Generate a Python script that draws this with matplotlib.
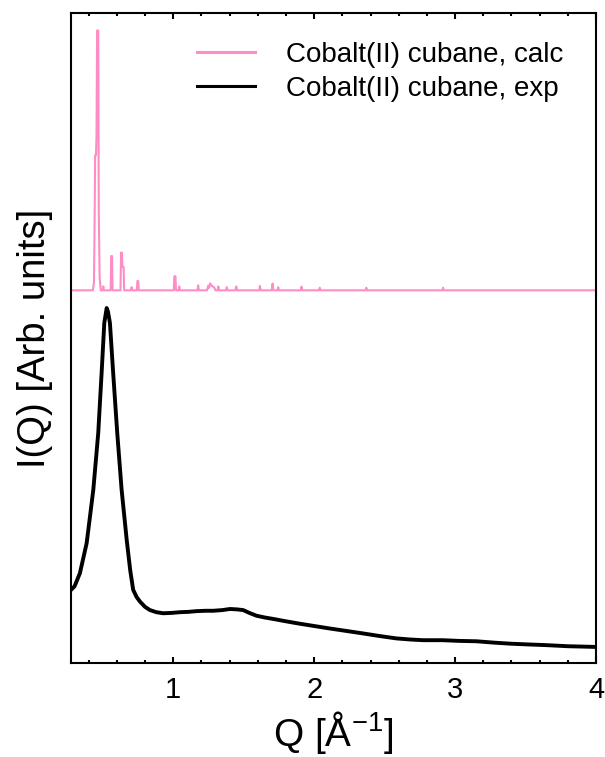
# Powder diffraction pattern: calculated vs experimental I(Q) for cobalt(II) cubane
import matplotlib.pyplot as plt
from matplotlib.ticker import MultipleLocator
import numpy as np

plt.rcParams['font.family'] = ['Liberation Sans', 'DejaVu Sans']
plt.rcParams['mathtext.default'] = 'regular'

# experimental trace (Q in 1/A, intensity normalised to the main peak)
exp_q = [0.275, 0.300, 0.338, 0.386, 0.433, 0.468, 0.492, 0.511, 0.528, 0.537,
         0.551, 0.574, 0.603, 0.634, 0.670, 0.695, 0.716, 0.740, 0.764, 0.800,
         0.835, 0.880, 0.929, 0.990, 1.048, 1.110, 1.166, 1.230, 1.284, 1.350,
         1.402, 1.450, 1.496, 1.540, 1.591, 1.650, 1.709, 1.790, 1.875, 2.000,
         2.111, 2.230, 2.348, 2.460, 2.584, 2.680, 2.773, 2.910, 3.030, 3.150,
         3.280, 3.400, 3.520, 3.650, 3.800, 4.000]
exp_i = [0.205, 0.215, 0.252, 0.337, 0.487, 0.647, 0.817, 0.958, 1.000, 0.990,
         0.958, 0.817, 0.647, 0.487, 0.346, 0.260, 0.205, 0.185, 0.172, 0.157,
         0.148, 0.142, 0.139, 0.140, 0.142, 0.143, 0.145, 0.146, 0.146, 0.148,
         0.151, 0.150, 0.148, 0.140, 0.132, 0.127, 0.123, 0.117, 0.111, 0.103,
         0.096, 0.089, 0.082, 0.075, 0.068, 0.065, 0.063, 0.063, 0.061, 0.060,
         0.056, 0.053, 0.051, 0.049, 0.046, 0.044]

# calculated pattern (narrow Bragg peaks on a flat baseline)
calc_q = [0.275, 0.430, 0.438, 0.443, 0.446, 0.452, 0.456, 0.460, 0.468, 0.472,
          0.478, 0.486, 0.500, 0.504, 0.508, 0.556, 0.560, 0.566, 0.570, 0.626,
          0.630, 0.636, 0.640, 0.648, 0.652, 0.700, 0.705, 0.710, 0.742, 0.746,
          0.752, 0.756, 1.004, 1.008, 1.016, 1.020, 1.038, 1.043, 1.048, 1.172,
          1.177, 1.182, 1.240, 1.248, 1.255, 1.262, 1.270, 1.278, 1.290, 1.300,
          1.315, 1.320, 1.325, 1.375, 1.380, 1.385, 1.440, 1.447, 1.454, 1.610,
          1.615, 1.620, 1.700, 1.705, 1.710, 1.740, 1.745, 1.750, 1.905, 1.910,
          1.915, 2.035, 2.040, 2.045, 2.365, 2.370, 2.375, 2.910, 2.915, 2.920,
          4.000]
calc_i = [0.000, 0.000, 0.030, 0.300, 0.520, 0.520, 0.600, 1.000, 1.000, 0.300,
          0.050, 0.000, 0.000, 0.015, 0.000, 0.000, 0.132, 0.132, 0.000, 0.000,
          0.145, 0.145, 0.090, 0.090, 0.000, 0.000, 0.012, 0.000, 0.000, 0.036,
          0.036, 0.000, 0.000, 0.054, 0.054, 0.000, 0.000, 0.015, 0.000, 0.000,
          0.019, 0.000, 0.000, 0.018, 0.010, 0.027, 0.020, 0.015, 0.012, 0.000,
          0.000, 0.015, 0.000, 0.000, 0.012, 0.000, 0.000, 0.015, 0.000, 0.000,
          0.017, 0.000, 0.000, 0.026, 0.000, 0.000, 0.012, 0.000, 0.000, 0.014,
          0.000, 0.000, 0.010, 0.000, 0.000, 0.010, 0.000, 0.000, 0.010, 0.000,
          0.000]

calc_offset = 1.05
calc_scale = 0.733

fig = plt.figure(figsize=(6.05, 7.57), dpi=100)
ax = fig.add_axes([0.1174, 0.1248, 0.8678, 0.8574])

ax.plot(calc_q, calc_offset + calc_scale * np.array(calc_i),
        color='#ff8cc4', lw=1.5, label='Cobalt(II) cubane, calc')
ax.plot(exp_q, exp_i, color='black', lw=2.8, label='Cobalt(II) cubane, exp')

ax.set_xlim(0.275, 4.0)
ax.set_ylim(0, 1.831)
ax.xaxis.set_major_locator(MultipleLocator(1))
ax.xaxis.set_minor_locator(MultipleLocator(0.2))
ax.set_yticks([])
ax.tick_params(axis='x', which='both', direction='in', top=True, width=1.5,
               labelsize=21, pad=10)
ax.tick_params(axis='x', which='major', length=4.5)
ax.tick_params(axis='x', which='minor', length=2.5)
for s in ax.spines.values():
    s.set_linewidth(1.5)

ax.set_xlabel('Q [Å$^{-1}$]', fontsize=28, labelpad=3)
ax.set_ylabel('I(Q) [Arb. units]', fontsize=27.5, labelpad=13)

leg = ax.legend(loc='upper right', bbox_to_anchor=(0.985, 0.995), frameon=False,
                fontsize=20, handlelength=2.1, handletextpad=1.1, labelspacing=0.3)
for h in leg.get_lines():
    h.set_linewidth(2.2)

fig.savefig('out.png', dpi=100)
